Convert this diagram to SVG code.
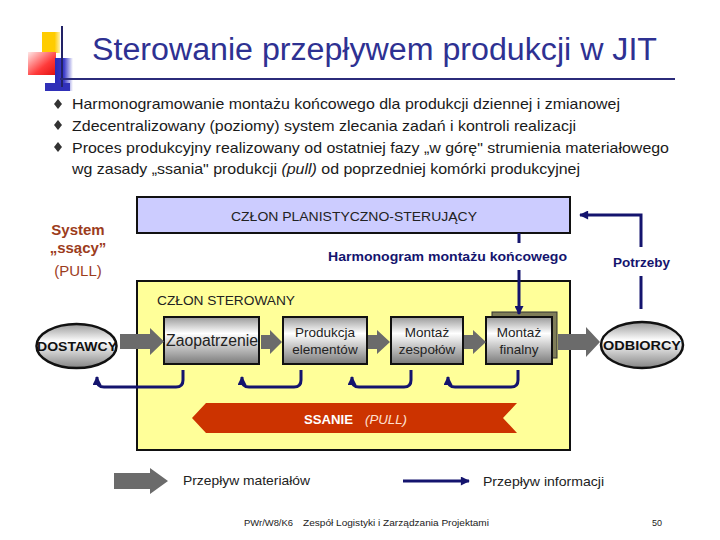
<svg xmlns="http://www.w3.org/2000/svg" width="720" height="540" viewBox="0 0 720 540">
<defs>
<style>
text{font-family:"Liberation Sans",Arial,sans-serif}
.bul{font-size:15px;fill:#1a1a1a}
.box{stroke:#111;stroke-width:2}
.pb{fill:url(#gbox);stroke:#111;stroke-width:2}
.pt{font-size:13.5px;fill:#222;text-anchor:middle}
.mat{fill:#6b6b6b}
.info{fill:none;stroke:#14146e;stroke-width:3}
.nav{fill:#14146e;font-weight:bold;font-size:13px}
.sys{fill:#9c3c1c;font-size:15px;text-anchor:middle}
</style>
<linearGradient id="gbox" x1="0" y1="0" x2="0" y2="1">
<stop offset="0" stop-color="#9a9a9a"/><stop offset="0.35" stop-color="#ffffff"/><stop offset="1" stop-color="#7a7a7a"/>
</linearGradient>
<linearGradient id="gell" x1="0" y1="0" x2="0" y2="1">
<stop offset="0" stop-color="#9a9a9a"/><stop offset="0.4" stop-color="#ffffff"/><stop offset="1" stop-color="#858585"/>
</linearGradient>
<linearGradient id="gy" x1="0" y1="0" x2="1" y2="0">
<stop offset="0" stop-color="#ffcc00"/><stop offset="0.7" stop-color="#ffcc00"/><stop offset="1" stop-color="#fff0b0"/>
</linearGradient>
<linearGradient id="gr" x1="0" y1="0" x2="1" y2="1">
<stop offset="0" stop-color="#ffe8e8"/><stop offset="0.6" stop-color="#ff3a3a"/><stop offset="1" stop-color="#e01010"/>
</linearGradient>
<linearGradient id="gb" x1="0" y1="0" x2="1" y2="0">
<stop offset="0" stop-color="#2a2ab8"/><stop offset="0.5" stop-color="#3a3ac8"/><stop offset="1" stop-color="#ffffff"/>
</linearGradient>
<marker id="ah" viewBox="0 0 10 10" refX="9" refY="5" markerWidth="10" markerHeight="9" markerUnits="userSpaceOnUse" orient="auto">
<path d="M0,0 L10,5 L0,10 Z" fill="#14146e"/>
</marker>
</defs>
<rect width="720" height="540" fill="#ffffff"/>

<g id="logo">
<rect x="42" y="32" width="18" height="21" fill="url(#gy)"/>
<rect x="28" y="52" width="28" height="23" fill="url(#gr)"/>
<rect x="55" y="58" width="18" height="33" fill="url(#gb)"/>
<rect x="45" y="83" width="25" height="8" fill="#3030b8"/>
<line x1="62" y1="26" x2="62" y2="87" stroke="#222266" stroke-width="2"/>
</g>
<g id="title">
<text x="92" y="60" font-size="31" fill="#2e3192" textLength="565" lengthAdjust="spacingAndGlyphs">Sterowanie przepływem produkcji w JIT</text>
<line x1="60" y1="79" x2="675" y2="79" stroke="#2b2b7a" stroke-width="2"/>
</g>

<g id="bullets">
<path d="M58,99 L62,104 L58,109 L54,104 Z" fill="#333"/>
<path d="M58,120 L62,125 L58,130 L54,125 Z" fill="#333"/>
<path d="M58,142 L62,147 L58,152 L54,147 Z" fill="#333"/>
<text class="bul" x="72" y="109" textLength="548" lengthAdjust="spacingAndGlyphs">Harmonogramowanie montażu końcowego dla produkcji dziennej i zmianowej</text>
<text class="bul" x="72" y="131" textLength="504" lengthAdjust="spacingAndGlyphs">Zdecentralizowany (poziomy) system zlecania zadań i kontroli realizacji</text>
<text class="bul" x="72" y="153" textLength="597" lengthAdjust="spacingAndGlyphs">Proces produkcyjny realizowany od ostatniej fazy „w górę" strumienia materiałowego</text>
<text class="bul" x="72" y="174" textLength="508" lengthAdjust="spacingAndGlyphs">wg zasady „ssania" produkcji <tspan font-style="italic">(pull)</tspan> od poprzedniej komórki produkcyjnej</text>
</g>

<g id="system-label">
<text class="sys" x="78" y="235" font-weight="bold">System</text>
<text class="sys" x="78" y="253" font-weight="bold">„ssący”</text>
<text class="sys" x="78" y="276">(PULL)</text>
</g>

<g id="planning">
<rect class="box" x="137" y="197" width="433" height="36" fill="#ccccff"/>
<text x="231" y="221" font-size="13.5" fill="#222" textLength="246" lengthAdjust="spacingAndGlyphs">CZŁON PLANISTYCZNO-STERUJĄCY</text>
</g>

<g id="controlled">
<rect class="box" x="137" y="281" width="433" height="169" fill="#ffff99"/>
<text x="157" y="305" font-size="13.5" fill="#222" textLength="138" lengthAdjust="spacingAndGlyphs">CZŁON STEROWANY</text>
</g>

<g id="ssanie">
<polygon points="192,418 206,403 517,403 503,418 517,433 206,433" fill="#cc3300"/>
<text x="304" y="424" font-size="13" font-weight="bold" fill="#ffffff" textLength="49" lengthAdjust="spacingAndGlyphs">SSANIE</text>
<text x="365" y="424" font-size="13" font-style="italic" fill="#ffe0d0" textLength="42" lengthAdjust="spacingAndGlyphs">(PULL)</text>
</g>

<g id="dostawcy">
<ellipse cx="76.5" cy="346" rx="40" ry="22" fill="url(#gell)" stroke="#111" stroke-width="2.5"/>
<text x="77" y="351" font-size="13" font-weight="bold" fill="#111" text-anchor="middle" textLength="80" lengthAdjust="spacingAndGlyphs">DOSTAWCY</text>
</g>
<g id="zaopatrzenie">
<rect class="pb" x="164" y="317" width="95" height="47"/>
<text x="212" y="346" font-size="16" fill="#222" text-anchor="middle" textLength="92" lengthAdjust="spacingAndGlyphs">Zaopatrzenie</text>
</g>
<g id="produkcja">
<rect class="pb" x="283" y="317" width="84" height="47"/>
<text class="pt" x="325" y="337">Produkcja</text>
<text class="pt" x="325" y="354">elementów</text>
</g>
<g id="montaz-zespolow">
<rect class="pb" x="391" y="317" width="72" height="47"/>
<text class="pt" x="427" y="337">Montaż</text>
<text class="pt" x="427" y="354">zespołów</text>
</g>
<g id="montaz-finalny">
<rect x="492" y="312" width="65" height="46" fill="#7f7d58" stroke="#333" stroke-width="1"/>
<rect class="pb" x="486" y="317" width="66" height="47"/>
<text class="pt" x="519" y="337">Montaż</text>
<text class="pt" x="519" y="354">finalny</text>
</g>
<g id="odbiorcy">
<ellipse cx="642" cy="345" rx="41" ry="23" fill="url(#gell)" stroke="#111" stroke-width="2.5"/>
<text x="642" y="350" font-size="13" font-weight="bold" fill="#111" text-anchor="middle" textLength="78" lengthAdjust="spacingAndGlyphs">ODBIORCY</text>
</g>

<g id="connectors">
<polygon class="mat" points="120,334 150,334 150,328 164,341.5 150,355 150,349 120,349"/>
<polygon class="mat" points="261,335 270,335 270,330 282,342 270,354 270,349 261,349"/>
<polygon class="mat" points="368,335 377,335 377,330 390,342 377,354 377,349 368,349"/>
<polygon class="mat" points="464,335 473,335 473,330 486,342 473,354 473,349 464,349"/>
<polygon class="mat" points="558,334 586,334 586,327 600,342 586,357 586,350 558,350"/>
<path class="info" d="M183,370 V380 Q183,387 176,387 H104 Q97,387 97,380 V377" marker-end="url(#ah)"/>
<path class="info" d="M301,370 V380 Q301,387 294,387 H249 Q242,387 242,380 V377" marker-end="url(#ah)"/>
<path class="info" d="M411,370 V380 Q411,387 404,387 H359 Q352,387 352,380 V377" marker-end="url(#ah)"/>
<path class="info" d="M518,370 V380 Q518,387 511,387 H455 Q448,387 448,380 V377" marker-end="url(#ah)"/>
<line class="info" x1="519" y1="233" x2="519" y2="243"/>
<line class="info" x1="519" y1="270" x2="519" y2="314" marker-end="url(#ah)"/>
<polyline class="info" points="641,309 641,276"/>
<polyline class="info" points="641,247 641,215 580,215" marker-end="url(#ah)"/>
</g>
<g id="flow-labels">
<text class="nav" x="328" y="261" textLength="239" lengthAdjust="spacingAndGlyphs">Harmonogram montażu końcowego</text>
<text class="nav" x="613" y="267" textLength="57" lengthAdjust="spacingAndGlyphs">Potrzeby</text>
</g>

<g id="legend">
<polygon class="mat" points="114,473 150,473 150,468 168,481 150,494 150,489 114,489"/>
<text x="183" y="485" font-size="13.5" fill="#222" textLength="127" lengthAdjust="spacingAndGlyphs">Przepływ materiałów</text>
<line class="info" x1="403" y1="481" x2="469" y2="481" marker-end="url(#ah)"/>
<text x="483" y="486" font-size="13.5" fill="#222" textLength="121" lengthAdjust="spacingAndGlyphs">Przepływ informacji</text>
</g>
<g id="footer">
<text x="244" y="526" font-size="9" fill="#222" textLength="49" lengthAdjust="spacingAndGlyphs">PWr/W8/K6</text>
<text x="303" y="526" font-size="9" fill="#222" textLength="186" lengthAdjust="spacingAndGlyphs">Zespół Logistyki i Zarządzania Projektami</text>
<text x="652" y="526" font-size="9" fill="#222">50</text>
</g>
</svg>
